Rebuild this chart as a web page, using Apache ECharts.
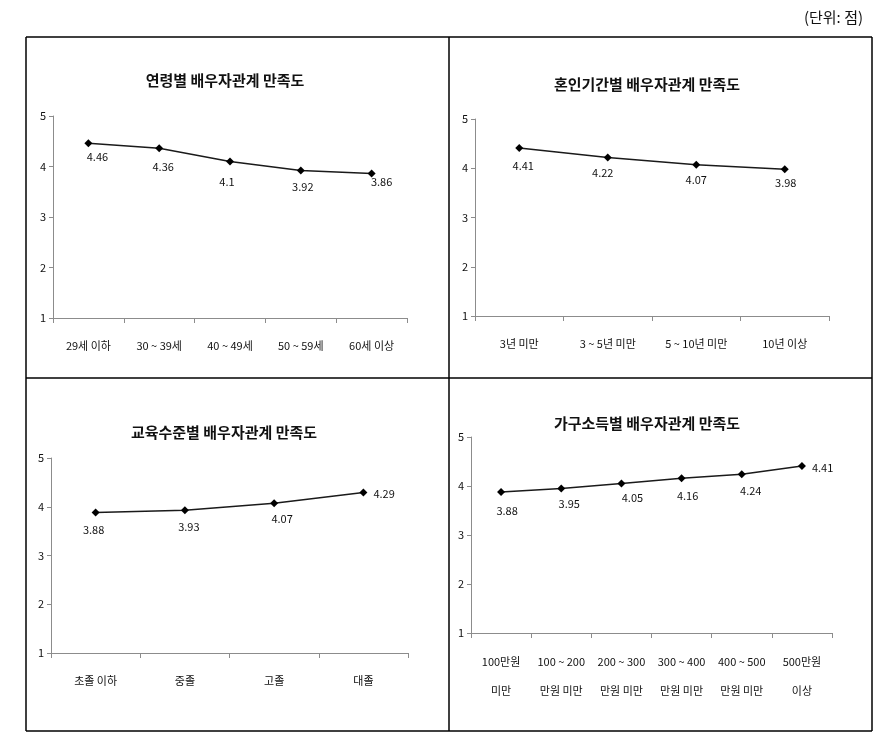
<!DOCTYPE html>
<html>
<head>
<meta charset="utf-8">
<script src="https://cdn.jsdelivr.net/npm/echarts@6/dist/echarts.min.js"></script>
<style>
html,body{margin:0;padding:0;background:#fff;}
#c{width:892px;height:747px;}
</style>
</head>
<body>
<div id="c"></div>
<script>
// ---- data ----
const ageCats = ['29세 이하', '30 ~ 39세', '40 ~ 49세', '50 ~ 59세', '60세 이상'];
const ageVals = [4.46, 4.36, 4.1, 3.92, 3.86];
const marriageCats = ['3년 미만', '3 ~ 5년 미만', '5 ~ 10년 미만', '10년 이상'];
const marriageVals = [4.41, 4.22, 4.07, 3.98];
const eduCats = ['초졸 이하', '중졸', '고졸', '대졸'];
const eduVals = [3.88, 3.93, 4.07, 4.29];
const incomeCats = ['100만원\n미만', '100 ~ 200\n만원 미만', '200 ~ 300\n만원 미만', '300 ~ 400\n만원 미만', '400 ~ 500\n만원 미만', '500만원\n이상'];
const incomeVals = [3.88, 3.95, 4.05, 4.16, 4.24, 4.41];
const titles = ['연령별 배우자관계 만족도', '혼인기간별 배우자관계 만족도', '교육수준별 배우자관계 만족도', '가구소득별 배우자관계 만족도'];
const yMin = 1, yMax = 5, yStep = 1;
const unitText = '(단위: 점)';

// ---- styles / layout ----
const FONT = '"Noto Sans CJK KR", "Noto Sans", sans-serif';
const grids = [
  {left: 53, top: 116, width: 354, height: 202},
  {left: 475, top: 119, width: 354, height: 197},
  {left: 51, top: 458, width: 357, height: 195},
  {left: 471, top: 437, width: 361, height: 196}
];
const titlePos = [
  {x: 225, y: 80}, {x: 647, y: 84}, {x: 224, y: 432}, {x: 647, y: 423}
];
// label offsets [dx, dy] per point, and position
const labelStyle = [
  [[9,-1,'bottom'],[4,4,'bottom'],[-3,6,'bottom'],[2,2,'bottom'],[10,-6,'bottom']],
  [[4,3,'bottom'],[-5,1,'bottom'],[0,1,'bottom'],[1,-1,'bottom']],
  [[-2,3,'bottom'],[4,2,'bottom'],[8,1,'bottom'],[0,1,'right']],
  [[6,4,'bottom'],[8,1,'bottom'],[11,0,'bottom'],[6,3,'bottom'],[9,2,'bottom'],[0,2,'right']]
];
const cats = [ageCats, marriageCats, eduCats, incomeCats];
const vals = [ageVals, marriageVals, eduVals, incomeVals];

const chart = echarts.init(document.getElementById('c'), null, {renderer: 'canvas'});

const option = {
  backgroundColor: '#fff',
  animation: false,
  textStyle: {fontFamily: FONT},
  title: titles.map((t, i) => ({
    text: t,
    left: titlePos[i].x,
    top: titlePos[i].y,
    padding: 0,
    textAlign: 'center',
    textVerticalAlign: 'middle',
    textStyle: {fontSize: 15, fontWeight: 'bold', color: '#111', fontFamily: FONT}
  })),
  grid: grids.map(g => Object.assign({containLabel: false}, g)),
  xAxis: cats.map((c, i) => ({
    type: 'category',
    gridIndex: i,
    data: c,
    boundaryGap: true,
    axisLine: {lineStyle: {color: '#8c8c8c', width: 1}},
    axisTick: {show: true, length: 5, lineStyle: {color: '#8c8c8c'}},
    axisLabel: {
      color: '#111', fontSize: 11, fontFamily: FONT, interval: 0,
      margin: i === 3 ? 14 : 21, lineHeight: i === 3 ? 29 : 14
    }
  })),
  yAxis: cats.map((c, i) => ({
    type: 'value',
    gridIndex: i,
    min: yMin, max: yMax, interval: yStep,
    splitLine: {show: false},
    axisLine: {show: true, lineStyle: {color: '#8c8c8c', width: 1}},
    axisTick: {show: true, length: 4, lineStyle: {color: '#8c8c8c'}},
    axisLabel: {color: '#111', fontSize: 11, fontFamily: FONT, margin: 7}
  })),
  series: vals.map((v, i) => ({
    type: 'line',
    xAxisIndex: i,
    yAxisIndex: i,
    symbol: 'diamond',
    symbolSize: 8,
    lineStyle: {color: '#1a1a1a', width: 1.5},
    itemStyle: {color: '#000'},
    label: {show: true, color: '#111', fontSize: 11, fontFamily: FONT},
    data: v.map((val, j) => ({
      value: val,
      label: {
        position: labelStyle[i][j][2],
        distance: labelStyle[i][j][2] === 'right' ? 6 : 5,
        offset: [labelStyle[i][j][0], labelStyle[i][j][1]]
      }
    }))
  })),
  graphic: [
    {type: 'text', right: 29, top: 10, style: {text: unitText, fontSize: 15, fill: '#111', fontFamily: FONT}},
    {type: 'line', shape: {x1: 26, y1: 37, x2: 872, y2: 37}, style: {stroke: '#000', lineWidth: 1.5}},
    {type: 'line', shape: {x1: 26, y1: 731, x2: 872, y2: 731}, style: {stroke: '#000', lineWidth: 1.5}},
    {type: 'line', shape: {x1: 26, y1: 378, x2: 872, y2: 378}, style: {stroke: '#000', lineWidth: 1.5}},
    {type: 'line', shape: {x1: 26, y1: 37, x2: 26, y2: 731}, style: {stroke: '#000', lineWidth: 1.5}},
    {type: 'line', shape: {x1: 449, y1: 37, x2: 449, y2: 731}, style: {stroke: '#000', lineWidth: 1.5}},
    {type: 'line', shape: {x1: 872, y1: 37, x2: 872, y2: 731}, style: {stroke: '#000', lineWidth: 1.5}}
  ]
};
chart.setOption(option);
</script>
</body>
</html>
